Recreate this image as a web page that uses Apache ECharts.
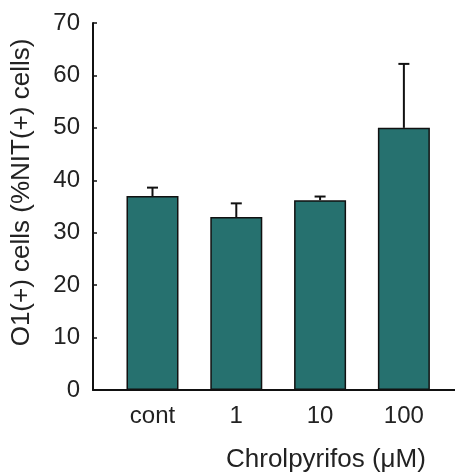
<!DOCTYPE html>
<html><head><meta charset="utf-8">
<script src="https://cdn.jsdelivr.net/npm/echarts@6/dist/echarts.min.js"></script>
<style>html,body{margin:0;padding:0;background:#fff}#c{width:455px;height:474px}</style>
</head><body><div id="c"></div>
<script>
var categories = ['cont', '1', '10', '100'];
var means = [37.0, 33.0, 36.2, 50.0];
var errUpper = [38.6, 35.6, 36.9, 62.2];
var yTicks = [0, 10, 20, 30, 40, 50, 60, 70];

var chart = echarts.init(document.getElementById('c'));
var font = '"Liberation Sans", Arial, sans-serif';
var barData = means.map(function (v, i) { return [i, v]; });
var errData = means.map(function (v, i) { return [i, v, errUpper[i]]; });

chart.setOption({
  animation: false,
  backgroundColor: '#fff',
  title: {
    text: 'Chrolpyrifos (\u03bcM)',
    left: 226, top: 447, padding: 0,
    textStyle: { fontFamily: font, fontSize: 26, fontWeight: 'normal', color: '#222' }
  },
  grid: { left: 93, right: 0, top: 23, bottom: 84, outerBoundsMode: 'none', containLabel: false },
  xAxis: {
    type: 'value', min: -0.71, max: 3.61,
    splitLine: { show: false },
    axisLine: { onZero: false, lineStyle: { color: '#111', width: 2 } },
    axisTick: { show: false },
    axisLabel: {
      customValues: [0, 1, 2, 3],
      formatter: function (v) { return categories[Math.round(v)]; },
      margin: 14, fontFamily: font, fontSize: 24, color: '#222'
    }
  },
  yAxis: {
    type: 'value', min: 0, max: 70, interval: 10,
    name: 'O1(+) cells (%NIT(+) cells)',
    nameLocation: 'middle', nameGap: 58, nameRotate: 90,
    nameTextStyle: { fontFamily: font, fontSize: 26, color: '#222', padding: [0, 0, 0, 28] },
    splitLine: { show: false },
    axisLine: { show: true, onZero: false, lineStyle: { color: '#111', width: 2 } },
    axisTick: { inside: true, length: 4, lineStyle: { color: '#111', width: 1.5 } },
    axisLabel: {
      margin: 13, fontFamily: font, fontSize: 24, color: '#222',
      formatter: function (v) { return yTicks.indexOf(v) >= 0 ? String(v) : ''; }
    }
  },
  series: [
    {
      type: 'bar', data: barData, barWidth: 52,
      itemStyle: { color: '#26716f', borderColor: '#111', borderWidth: 1.5 }
    },
    {
      type: 'custom', data: errData, z: 10,
      renderItem: function (params, api) {
        var x = api.value(0);
        var p0 = api.coord([x, api.value(1)]);
        var p1 = api.coord([x, api.value(2)]);
        var hw = 5.5;
        return {
          type: 'group',
          children: [
            { type: 'line', shape: { x1: p0[0], y1: p0[1], x2: p1[0], y2: p1[1] }, style: { stroke: '#111', lineWidth: 2 } },
            { type: 'line', shape: { x1: p1[0] - hw, y1: p1[1], x2: p1[0] + hw, y2: p1[1] }, style: { stroke: '#111', lineWidth: 2 } }
          ]
        };
      }
    }
  ]
});
</script>
</body></html>
